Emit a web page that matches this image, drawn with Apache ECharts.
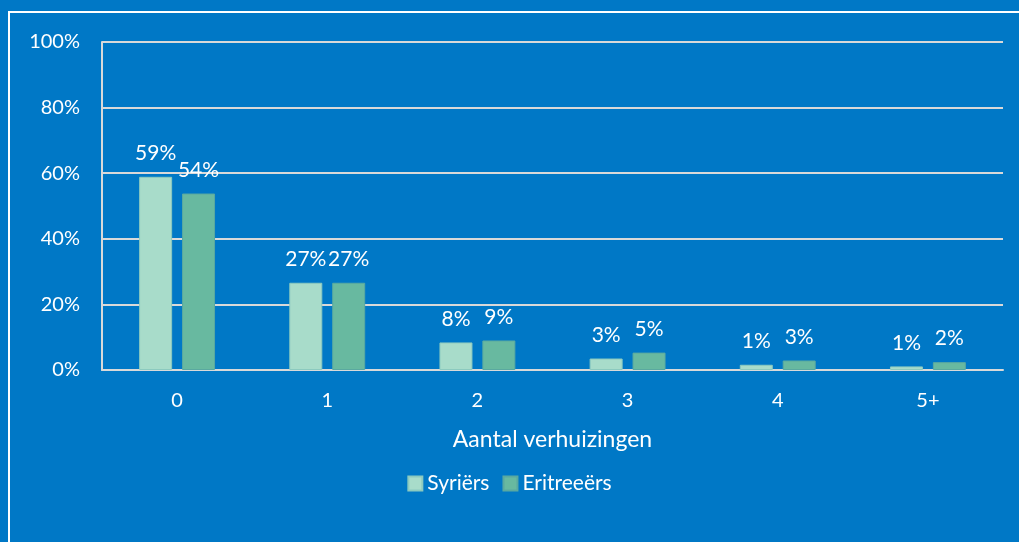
<!DOCTYPE html>
<html>
<head>
<meta charset="utf-8">
<script src="https://cdn.jsdelivr.net/npm/echarts@6/dist/echarts.min.js"></script>
<style>
  html, body { margin: 0; padding: 0; background: #0078c6; }
  #chart { width: 1019px; height: 542px; }
</style>
</head>
<body>
<div id="chart"></div>
<script>
const categories = ['0', '1', '2', '3', '4', '5+']
const syriers = [58.9, 26.6, 8.4, 3.5, 1.6, 1.1]
const eritreeers = [53.8, 26.6, 9.0, 5.3, 2.9, 2.4]
const syriersLabels = ['59%', '27%', '8%', '3%', '1%', '1%']
const eritreeersLabels = ['54%', '27%', '9%', '5%', '3%', '2%']
const yTicks = [0, 20, 40, 60, 80, 100]

const font = 'Lato, "Open Sans", sans-serif'
const chart = echarts.init(document.getElementById('chart'))

const barLabel = (labels) => ({
  show: true,
  position: 'top',
  distance: 13,
  color: '#ffffff',
  fontFamily: font,
  fontSize: 21,
  formatter: (p) => labels[p.dataIndex],
})

chart.setOption({
  backgroundColor: '#0078c6',
  animation: false,
  textStyle: { fontFamily: font },
  graphic: [
    {
      type: 'rect',
      shape: { x: 9, y: 12, width: 1100, height: 600 },
      style: { fill: 'none', stroke: '#ffffff', lineWidth: 2 },
      silent: true,
    },
  ],
  grid: {
    left: 102,
    right: 16,
    top: 42,
    bottom: 172,
  },
  legend: {
    top: 468,
    left: 'center',
    itemWidth: 14,
    itemHeight: 14,
    itemGap: 13,
    icon: 'rect',
    textStyle: { color: '#ffffff', fontSize: 21, fontFamily: font },
    data: ['Syriërs', 'Eritreeërs'],
  },
  xAxis: {
    type: 'category',
    data: categories,
    name: 'Aantal verhuizingen',
    nameLocation: 'middle',
    nameGap: 58,
    nameTextStyle: { color: '#ffffff', fontSize: 23, fontFamily: font },
    axisLine: { show: true, lineStyle: { color: '#d9d9d9', width: 2 } },
    axisTick: { show: false },
    axisLabel: { color: '#ffffff', fontSize: 20, margin: 21, fontFamily: font },
  },
  yAxis: {
    type: 'value',
    min: yTicks[0],
    max: yTicks[yTicks.length - 1],
    interval: 20,
    axisLine: { show: true, lineStyle: { color: '#d9d9d9', width: 2 } },
    axisTick: { show: false },
    splitLine: { lineStyle: { color: '#d9d9d9', width: 2 } },
    axisLabel: {
      color: '#ffffff',
      fontSize: 20,
      margin: 22,
      fontFamily: font,
      formatter: '{value}%',
    },
  },
  series: [
    {
      name: 'Syriërs',
      type: 'bar',
      data: syriers,
      barWidth: 33,
      barGap: '30%',
      itemStyle: { color: '#a8dcca', borderColor: '#8ccabf', borderWidth: 1 },
      label: barLabel(syriersLabels),
    },
    {
      name: 'Eritreeërs',
      type: 'bar',
      data: eritreeers,
      barWidth: 33,
      itemStyle: { color: '#68b9a0', borderColor: '#5aa9a0', borderWidth: 1 },
      label: barLabel(eritreeersLabels),
    },
  ],
})

window.addEventListener('resize', () => {
  chart.resize()
})
</script>
</body>
</html>
